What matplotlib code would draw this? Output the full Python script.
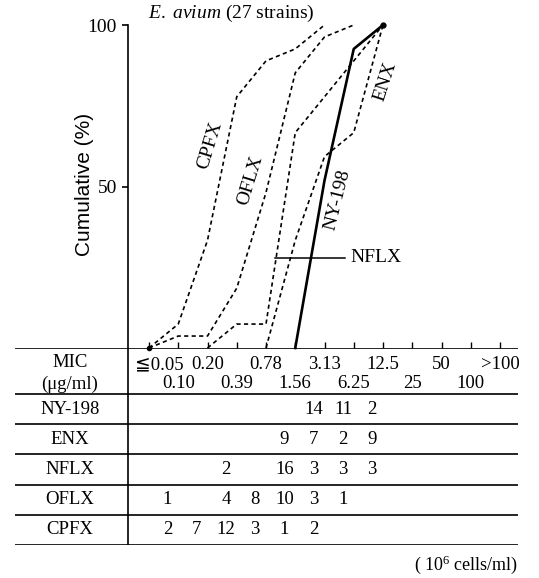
import numpy as np
import matplotlib
matplotlib.use('Agg')
from matplotlib import pyplot as plt

plt.rcParams['font.family'] = ['Liberation Serif', 'DejaVu Serif', 'DejaVu Sans']
plt.rcParams['mathtext.fontset'] = 'custom'
plt.rcParams['mathtext.rm'] = 'Liberation Serif'
plt.rcParams['mathtext.it'] = 'Liberation Serif:italic'

# MIC categories (ug/ml)
mic_labels = ['≦0.05', '0.10', '0.20', '0.39', '0.78', '1.56', '3.13',
              '6.25', '12.5', '25', '50', '100', '>100']

# number of strains per MIC category (27 strains each)
drugs = ['NY-198', 'ENX', 'NFLX', 'OFLX', 'CPFX']
counts_ny198 = [0, 0, 0, 0, 0, 0, 14, 11, 2, 0, 0, 0, 0]
counts_enx   = [0, 0, 0, 0, 0, 9, 7, 2, 9, 0, 0, 0, 0]
counts_nflx  = [0, 0, 0, 2, 0, 16, 3, 3, 3, 0, 0, 0, 0]
counts_oflx  = [0, 1, 0, 4, 8, 10, 3, 1, 0, 0, 0, 0, 0]
counts_cpfx  = [0, 2, 7, 12, 3, 1, 2, 0, 0, 0, 0, 0, 0]
n_strains = 27

_counts = {
    'NY-198': counts_ny198,
    'ENX': counts_enx,
    'NFLX': counts_nflx,
    'OFLX': counts_oflx,
    'CPFX': counts_cpfx,
}

_fs = 14
_fs_tab = 13.5

W, H = 539, 578
fig = plt.figure(figsize=(W / 100, H / 100), dpi=100)

# pixel layout
x0_px, dx_px = 149.0, 29.25
def px_to_idx(px):
    return (px - x0_px) / dx_px

ax = fig.add_axes([128 / W, 1 - 348 / H, 390 / W, 323 / H])
ax.set_xlim(px_to_idx(128), px_to_idx(518))
ax.set_ylim(0, 100)
for side in ['top', 'right', 'bottom']:
    ax.spines[side].set_visible(False)
ax.spines['left'].set_linewidth(1.2)
ax.set_yticks([50, 100])
ax.set_yticklabels(['50', '100'], fontsize=_fs)
ax.tick_params(axis='y', direction='out', length=4, width=1.2, pad=4)
ax.set_xticks(np.arange(len(mic_labels)))
ax.set_xticklabels([])
ax.tick_params(axis='x', direction='in', length=4, width=1.0, bottom=True)
ax.patch.set_alpha(0)


def cumulative_curve(counts):
    counts = np.asarray(counts)
    cum = np.cumsum(counts) / n_strains * 100
    first = np.nonzero(counts)[0][0]
    last = np.nonzero(counts)[0][-1]
    idx = np.arange(max(first - 1, 0), last + 1)
    return idx, cum[idx]


for name in drugs:
    xs, ys = cumulative_curve(_counts[name])
    if name == 'NY-198':
        ax.plot(xs, ys, color='black', lw=1.9, clip_on=False)
    else:
        ax.plot(xs, ys, color='black', lw=1.2, linestyle=(0, (2.5, 2)),
                clip_on=False)

xs, ys = cumulative_curve(counts_cpfx)
ax.plot(xs[0], ys[0], 'o', color='black', ms=3, clip_on=False)
xs, ys = cumulative_curve(counts_ny198)
ax.plot(xs[-1], ys[-1], 'o', color='black', ms=3.5, clip_on=False)

# curve labels
ax.text(px_to_idx(210), 62.8, 'CPFX', rotation=73, fontsize=_fs,
        ha='center', va='center')
ax.text(px_to_idx(250), 52.0, 'OFLX', rotation=73, fontsize=_fs,
        ha='center', va='center')
ax.text(px_to_idx(338), 45.8, 'NY-198', rotation=76, fontsize=_fs,
        ha='center', va='center')
ax.text(px_to_idx(385), 82.4, 'ENX', rotation=72, fontsize=_fs,
        ha='center', va='center')
ax.plot([px_to_idx(275), px_to_idx(345)], [27.9, 27.9], color='black', lw=1.1)
ax.text(px_to_idx(350), 27.9, 'NFLX', fontsize=_fs, ha='left', va='center')

ax.text(0.051, 1.035, r'$\it{E.\ avium}$ (27 strains)', transform=ax.transAxes,
        fontsize=_fs, ha='left', va='center')
fig.text(85 / W, 1 - 184 / H, 'Cumulative (%)', rotation=90, fontsize=15,
         family='Liberation Sans', ha='center', va='center')

# table below the plot
tab = fig.add_axes([15 / W, 1 - 545 / H, 503 / W, 197 / H])
tab.set_xlim(px_to_idx(15), px_to_idx(518))
tab.set_ylim(0, 6.52)
tab.axis('off')
for yl in [0, 1, 2, 3, 4, 5, 6.52]:
    tab.axhline(yl, color='black', lw=1.2)
tab.plot([px_to_idx(128.5)] * 2, [0, 6.52], color='black', lw=1.2)

label_x = px_to_idx(70)
tab.text(label_x, 6.03, 'MIC', fontsize=_fs_tab, ha='center', va='center')
tab.text(label_x, 5.33, '(μg/ml)', fontsize=_fs_tab, ha='center', va='center')
for i, lab in enumerate(mic_labels):
    yrow = 5.97 if i % 2 == 0 else 5.35
    if i == 0:
        tab.text(i - 0.48, yrow, lab, fontsize=_fs_tab, ha='left', va='center')
    else:
        tab.text(i, yrow, lab, fontsize=_fs_tab, ha='center', va='center')

for row, name in enumerate(drugs):
    yrow = 4.5 - row
    tab.text(label_x, yrow, name, fontsize=_fs_tab, ha='center', va='center')
    for i, c in enumerate(_counts[name]):
        if c:
            tab.text(i - 0.37, yrow, str(c), fontsize=_fs_tab, ha='center',
                     va='center')

fig.text(518 / W, 1 - 565 / H, r'( $10^{6}$ cells/ml)', fontsize=13,
         ha='right', va='center')

fig.savefig('out.png', dpi=100)
